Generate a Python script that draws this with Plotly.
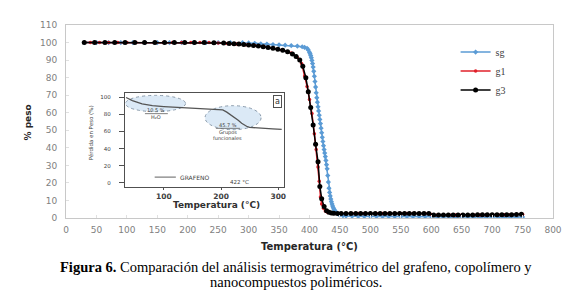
import plotly.graph_objects as go

# ---------------- main TGA data ----------------
sg_T = [30, 50, 70, 90, 110, 130, 150, 170, 190, 210, 230, 250, 270, 290, 300, 310, 320, 330, 340, 350,
        360, 370, 380, 388, 392, 396, 398, 400, 401, 402, 403, 404, 405, 406, 407, 408, 409, 410, 411, 412,
        413, 414, 415, 416, 417, 418, 419, 420, 421, 422, 423, 424, 425, 426, 427, 428, 429, 430, 431, 432,
        433, 434, 435, 436, 437, 438, 439, 440, 441, 442, 444, 446, 448, 450, 455, 460, 470, 480, 490, 500,
        510, 520, 530, 540, 550, 560, 570, 580, 590, 600, 610, 620, 630, 640, 650, 660, 670, 680, 690, 700,
        710, 720, 730, 740, 750]
sg_W = [100, 100, 100, 100, 100, 100, 100, 100, 100, 100, 100, 100, 100, 99.9, 99.8, 99.6, 99.3, 99.1, 98.9, 98.7,
        98.5, 98.3, 98.0, 97.6, 97.2, 96.7, 95.8, 94.4, 93.6, 92.6, 91.4, 89.8, 88.0, 86.0, 83.6, 80.8, 77.8, 74.6, 71.4, 68.6,
        66.0, 63.4, 61.0, 58.6, 56.2, 53.8, 51.2, 48.6, 46.0, 43.6, 41.2, 39.0, 37.0, 35.0, 32.8, 30.4, 28.0, 24.2, 20.5, 17.0,
        14.6, 12.6, 10.8, 9.3, 8.0, 6.9, 5.9, 5.1, 4.5, 4.0, 3.2, 2.6, 2.1, 1.8, 1.3, 1.1, 1.0, 0.9, 0.9, 0.9,
        0.9, 0.9, 0.9, 0.9, 0.9, 0.9, 0.9, 0.9, 0.9, 0.8, 0.6, 0.6, 0.6, 0.6, 0.6, 0.6, 0.6, 0.6, 0.6, 0.6,
        0.6, 0.6, 0.6, 0.6, 0.6]

g1_T = [30, 40, 55, 70, 85, 100, 115, 130, 145, 160, 175, 190, 205, 220, 235, 250, 265, 280, 295, 310,
        325, 340, 355, 370, 380, 387, 392, 396, 400, 404, 408, 411, 414, 416, 418, 420, 423, 426, 430, 435,
        440, 450, 460, 470, 480, 490, 500, 510, 520, 530, 540, 550, 560, 570, 580, 590, 600, 610, 620, 630,
        640, 650, 660, 670, 680, 690, 700, 710, 720, 730, 740, 750]
g1_W = [100, 100, 100, 100, 100, 100, 100, 100, 100, 100, 100, 100, 100, 100, 100, 99.8, 99.5, 99.2, 98.8, 98.3,
        97.7, 96.9, 95.8, 94.0, 91.5, 88.0, 81.0, 75.0, 67.5, 59.5, 48.0, 39.0, 29.0, 21.0, 12.0, 8.0, 5.5, 4.0, 3.2, 2.8,
        2.6, 2.5, 2.5, 2.5, 2.5, 2.5, 2.5, 2.5, 2.5, 2.5, 2.5, 2.5, 2.5, 2.5, 2.5, 2.5, 2.0, 1.7, 1.7, 1.7,
        1.7, 1.7, 1.7, 1.7, 1.7, 1.7, 1.8, 1.8, 1.8, 1.9, 1.9, 2.1]

g3_T = [30, 47, 64, 80, 97, 113, 129, 146, 162, 178, 195, 211, 227, 243, 259, 268, 276, 284, 292, 300,
        308, 316, 324, 332, 340, 348, 356, 364, 372, 378, 384, 389, 394, 398, 402, 406, 410, 414, 417, 420,
        424, 428, 432, 436, 440, 446, 452, 460, 468, 476, 484, 492, 500, 508, 516, 524, 532, 540, 548, 556,
        564, 572, 580, 588, 596, 604, 612, 620, 628, 636, 644, 652, 660, 668, 676, 684, 692, 700, 708, 716,
        724, 732, 740, 748]
g3_W = [100, 100, 100, 100, 100, 100, 100, 100, 100, 100, 100, 100, 100, 99.9, 99.7, 99.5, 99.3, 99.1, 98.9, 98.6,
        98.3, 98.0, 97.6, 97.2, 96.7, 96.2, 95.6, 94.8, 93.5, 92.0, 90.0, 86.5, 80.0, 72.0, 63.0, 53.0, 42.0, 32.0, 18.0, 11.0,
        6.5, 4.2, 3.3, 2.9, 2.7, 2.6, 2.6, 2.6, 2.6, 2.6, 2.6, 2.6, 2.6, 2.6, 2.6, 2.6, 2.6, 2.6, 2.6, 2.6,
        2.6, 2.6, 2.6, 2.6, 2.6, 1.7, 1.7, 1.7, 1.7, 1.7, 1.7, 1.7, 1.7, 1.7, 1.8, 1.8, 1.8, 1.8, 1.8, 1.9,
        1.9, 1.9, 2.0, 2.1]

series_names = ["sg", "g1", "g3"]

# ---------------- inset (graphene) data ----------------
ins_T = [34, 45, 62, 80, 100, 121, 148, 178, 195, 203, 210, 217, 224, 230, 236, 241, 246, 250, 260, 275, 290, 306]
ins_W = [99.5, 96.0, 92.0, 90.0, 89.0, 88.3, 87.6, 86.6, 86.0, 85.0, 82.5, 79.5, 76.5, 73.0, 69.5, 67.0, 65.5, 64.8, 64.2, 63.6, 63.0, 62.4]
ins_xticks = [100, 200, 300]
ins_yticks = [0, 20, 40, 60, 80, 100]

x_ticks = list(range(0, 801, 50))
y_ticks = list(range(0, 111, 10))

fig = go.Figure()

fig.add_trace(go.Scatter(x=sg_T, y=sg_W, name=series_names[0], mode="lines+markers",
                         line=dict(color="#5B9BD5", width=1.5),
                         marker=dict(symbol="diamond", size=4, color="#5B9BD5")))
fig.add_trace(go.Scatter(x=g1_T, y=g1_W, name=series_names[1], mode="lines+markers",
                         line=dict(color="#E0202A", width=1.5),
                         marker=dict(symbol="circle", size=3.5, color="#E0202A")))
fig.add_trace(go.Scatter(x=g3_T, y=g3_W, name=series_names[2], mode="lines+markers",
                         line=dict(color="#000000", width=1.5),
                         marker=dict(symbol="circle", size=5, color="#000000")))

fig.add_trace(go.Scatter(x=ins_T, y=ins_W, xaxis="x2", yaxis="y2", mode="lines",
                         line=dict(color="#555555", width=1.3), showlegend=False))

axcol = "#C8C8C8"
tickfont = dict(family="DejaVu Sans", size=9, color="#7F7F7F")

fig.update_layout(
    width=572, height=291,
    margin=dict(l=58, r=27, t=12, b=81),
    paper_bgcolor="white", plot_bgcolor="white",
    showlegend=True,
    legend=dict(x=0.80, y=0.935, xanchor="left", yanchor="top", bgcolor="rgba(0,0,0,0)",
                font=dict(family="Liberation Serif", size=10, color="#404040"),
                itemwidth=30, tracegroupgap=0),
    xaxis=dict(range=[0, 800], tickvals=x_ticks, showgrid=False, zeroline=False,
               showline=True, mirror=True, linecolor=axcol, linewidth=1,
               ticks="inside", ticklen=3, tickcolor="#E0E0E0",
               tickfont=tickfont, ticklabelstandoff=3),
    yaxis=dict(range=[0, 110], tickvals=y_ticks, showgrid=False, zeroline=False,
               showline=True, mirror=True, linecolor=axcol, linewidth=1,
               ticks="inside", ticklen=3, tickcolor="#E0E0E0",
               tickfont=tickfont, ticklabelstandoff=6),
    xaxis2=dict(domain=[0.121, 0.4476], anchor="y2", range=[32, 310], tickvals=ins_xticks,
                showgrid=False, zeroline=False, showline=True, mirror=True,
                linecolor="#505050", linewidth=1, ticks="outside", ticklen=2, tickcolor="#505050",
                tickfont=dict(family="DejaVu Sans", size=7.5, color="#404040", weight="bold"),
                ticklabelstandoff=0),
    yaxis2=dict(domain=[0.1616, 0.6465], anchor="x2", range=[-4.5, 104.5], tickvals=ins_yticks,
                showgrid=False, zeroline=False, showline=True, mirror=True,
                linecolor="#505050", linewidth=1, ticks="outside", ticklen=5, tickcolor="#505050",
                tickfont=dict(family="DejaVu Sans", size=5.5, color="#404040"),
                ticklabelstandoff=7),
)

# ellipses in inset
fig.add_shape(type="circle", xref="x2", yref="y2", x0=33, x1=138, y0=83, y1=102,
              fillcolor="rgba(189,215,238,0.55)", line=dict(color="#8A9AAA", width=1, dash="dot"),
              layer="below")
fig.add_shape(type="circle", xref="x2", yref="y2", x0=172, x1=270, y0=62, y1=90,
              fillcolor="rgba(189,215,238,0.55)", line=dict(color="#8A9AAA", width=1, dash="dot"),
              layer="below")
# underline marks and legend line of inset
fig.add_shape(type="line", xref="x2", yref="y2", x0=67, x1=107, y0=80.7, y1=80.7,
              line=dict(color="#606060", width=0.8))
fig.add_shape(type="line", xref="x2", yref="y2", x0=191, x1=233, y0=63.6, y1=63.6,
              line=dict(color="#606060", width=0.8))
fig.add_shape(type="line", xref="x2", yref="y2", x0=84, x1=121, y0=6.8, y1=6.8,
              line=dict(color="#606060", width=1))

small = dict(family="DejaVu Sans", size=5, color="#404040")
ann = [
    dict(text="10.5 %", x=86, y=85.2, xref="x2", yref="y2", font=small),
    dict(text="H₂O", x=86, y=77.0, xref="x2", yref="y2", font=small),
    dict(text="45.7 %", x=212, y=67, xref="x2", yref="y2", font=small),
    dict(text="Grupos", x=212, y=59, xref="x2", yref="y2", font=small),
    dict(text="funcionales", x=212, y=52.3, xref="x2", yref="y2", font=small),
    dict(text="GRAFENO", x=124, y=6.8, xref="x2", yref="y2", xanchor="left",
         font=dict(family="DejaVu Sans", size=6, color="#404040")),
    dict(text="422 °C", x=232, y=1.1, xref="x2", yref="y2",
         font=dict(family="DejaVu Sans", size=5.5, color="#404040")),
    dict(text="a", x=298, y=94.3, xref="x2", yref="y2", bordercolor="#505050", borderwidth=1,
         borderpad=1, font=dict(family="DejaVu Sans", size=8, color="#303030")),
    dict(text="Pérdida en Peso (%)", x=0.0513, y=0.444, xref="paper", yref="paper", textangle=-90,
         font=dict(family="DejaVu Sans", size=5.5, color="#404040")),
    dict(text="<b>Temperatura (°C)</b>", x=0.31, y=0.066, xref="paper", yref="paper",
         font=dict(family="DejaVu Sans", size=9, color="#303030")),
    dict(text="<b>% peso</b>", x=-0.078, y=0.495, xref="paper", yref="paper", textangle=-90,
         font=dict(family="DejaVu Sans", size=9, color="#262626")),
    dict(text="<b>Temperatura (°C)</b>", x=0.499, y=-0.15, xref="paper", yref="paper",
         font=dict(family="DejaVu Sans", size=10, color="#262626")),
    dict(text="<b>Figura 6.</b> Comparación del análisis termogravimétrico del grafeno, copolímero y",
         x=0.472, y=-0.253, xref="paper", yref="paper",
         font=dict(family="Liberation Serif", size=14.5, color="#000000")),
    dict(text="nanocompuestos poliméricos.", x=0.472, y=-0.33, xref="paper", yref="paper",
         font=dict(family="Liberation Serif", size=14.5, color="#000000")),
]
for a in ann:
    a.setdefault("showarrow", False)
    a.setdefault("xanchor", "center")
    a.setdefault("yanchor", "middle")
    fig.add_annotation(**a)

fig.write_html("out.html")
